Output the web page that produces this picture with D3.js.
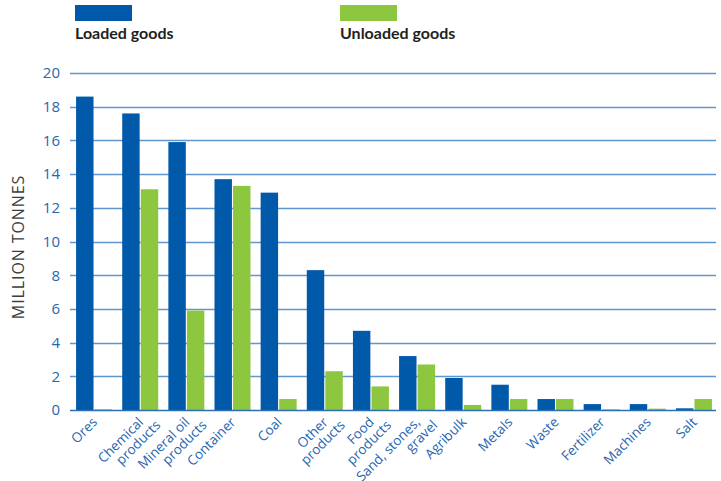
<!DOCTYPE html>
<html>
<head>
<meta charset="utf-8">
<script src="https://cdn.jsdelivr.net/npm/d3@7"></script>
<style>
  body { margin: 0; background: #fff; }
  svg { display: block; }
</style>
</head>
<body>
<div id="chart"></div>
<script>
// Chart data
const categories = ["Ores", "Chemical products", "Mineral oil products", "Container", "Coal",
  "Other products", "Food products", "Sand, stones, gravel", "Agribulk", "Metals",
  "Waste", "Fertilizer", "Machines", "Salt"];
const labelLines = [["Ores"], ["Chemical", "products"], ["Mineral oil", "products"], ["Container"], ["Coal"],
  ["Other", "products"], ["Food", "products"], ["Sand, stones,", "gravel"], ["Agribulk"], ["Metals"],
  ["Waste"], ["Fertilizer"], ["Machines"], ["Salt"]];
const loaded = [18.6, 17.6, 15.9, 13.7, 12.9, 8.3, 4.7, 3.2, 1.9, 1.5, 0.65, 0.35, 0.35, 0.1];
const unloaded = [0.04, 13.1, 5.9, 13.3, 0.65, 2.3, 1.4, 2.7, 0.3, 0.65, 0.65, 0.04, 0.08, 0.65];
const seriesNames = ["Loaded goods", "Unloaded goods"];
const yTicks = [0, 2, 4, 6, 8, 10, 12, 14, 16, 18, 20];

const colors = ["#0059a9", "#8dc63f"];
const W = 721, H = 481;

const data = categories.map((c, i) => ({ cat: c, lines: labelLines[i], values: [loaded[i], unloaded[i]] }));

const svg = d3.select("#chart").append("svg")
  .attr("width", W)
  .attr("height", H);

// Scales
const x0 = d3.scaleBand().domain(categories).range([71, 717]).paddingInner(0.22).paddingOuter(0.11);
const x1 = d3.scaleBand().domain(seriesNames).range([0, x0.bandwidth()]).paddingInner(0.06);
const y = d3.scaleLinear().domain([0, 20]).range([410, 73]);

// Gridlines
svg.append("g")
  .selectAll("line")
  .data(yTicks.filter(d => d > 0))
  .enter().append("line")
  .attr("x1", 70).attr("x2", 716)
  .attr("y1", d => Math.round(y(d)) + 0.5).attr("y2", d => Math.round(y(d)) + 0.5)
  .attr("stroke", "#5f98d0")
  .attr("stroke-width", 1.4);

// Y axis labels
const yAxis = svg.append("g")
  .attr("transform", "translate(70,0)")
  .call(d3.axisLeft(y).tickValues(yTicks).tickSize(0).tickPadding(10));
yAxis.select(".domain").remove();
yAxis.selectAll("text")
  .attr("fill", "#2766b0")
  .style("font-family", "'Open Sans', sans-serif")
  .style("font-size", "15px");

// Bars
const groups = svg.append("g")
  .selectAll("g")
  .data(data)
  .enter().append("g")
  .attr("transform", d => "translate(" + x0(d.cat) + ",0)");

groups.selectAll("rect")
  .data(d => d.values.map((v, i) => ({ key: seriesNames[i], value: v, i: i })))
  .enter().append("rect")
  .attr("x", d => x1(d.key))
  .attr("width", x1.bandwidth())
  .attr("y", d => y(d.value))
  .attr("height", d => y(0) - y(d.value))
  .attr("fill", d => colors[d.i]);

// Baseline
svg.append("line")
  .attr("x1", 70).attr("x2", 716)
  .attr("y1", y(0) + 0.5).attr("y2", y(0) + 0.5)
  .attr("stroke", "#2a6fb8")
  .attr("stroke-width", 1.6);

// X labels (rotated, multi-line)
const labels = svg.append("g")
  .selectAll("text")
  .data(data)
  .enter().append("text")
  .attr("transform", d => "translate(" + (x0(d.cat) + x0.bandwidth() / 2 + 4) + ",423) rotate(-45)")
  .attr("text-anchor", "end")
  .attr("fill", "#2766b0")
  .style("font-family", "'Open Sans', sans-serif")
  .style("font-size", "13.5px");

labels.each(function (d) {
  const t = d3.select(this);
  d.lines.forEach((ln, k) => {
    t.append("tspan")
      .attr("x", k === 0 ? 0 : 10)
      .attr("dy", k === 0 ? 0 : "1.05em")
      .text(ln);
  });
});

// Y axis title
svg.append("text")
  .attr("transform", "translate(24,247) rotate(-90)")
  .attr("text-anchor", "middle")
  .attr("fill", "#3d3d3d")
  .style("font-family", "'Open Sans', sans-serif")
  .style("font-size", "16px")
  .style("letter-spacing", "0.9px")
  .text("MILLION TONNES");

// Legend
const legendX = [75, 340];
seriesNames.forEach((name, i) => {
  svg.append("rect")
    .attr("x", legendX[i]).attr("y", 5)
    .attr("width", 57).attr("height", 16)
    .attr("fill", colors[i]);
  svg.append("text")
    .attr("x", legendX[i]).attr("y", 39)
    .attr("fill", "#231f20")
    .style("font-family", "Lato, sans-serif")
    .style("font-weight", "bold")
    .style("font-size", "16px")
    .text(name);
});
</script>
</body>
</html>
